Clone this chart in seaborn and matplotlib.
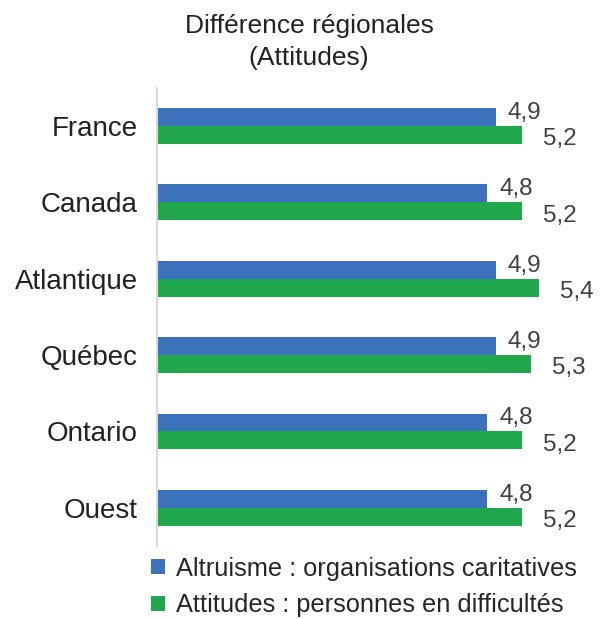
import pandas as pd
import matplotlib.pyplot as plt
import seaborn as sns
from matplotlib.patches import Patch

# Data
regions = ['France', 'Canada', 'Atlantique', 'Québec', 'Ontario', 'Ouest']
altruisme = [4.9, 4.8, 4.9, 4.9, 4.8, 4.8]
attitudes = [5.2, 5.2, 5.4, 5.3, 5.2, 5.2]
series = ['Altruisme : organisations caritatives', 'Attitudes : personnes en difficultés']
colors = ['#3b72bb', '#21a84c']

df = pd.DataFrame({
    'Region': regions * 2,
    'Score': altruisme + attitudes,
    'Serie': [series[0]] * len(regions) + [series[1]] * len(regions),
})

sns.set_style('white')
plt.rcParams['font.family'] = ['Liberation Sans', 'DejaVu Sans']

fig = plt.figure(figsize=(6, 6.19), dpi=100)
ax = fig.add_axes([0.262, 0.118, 0.718, 0.74])

sns.barplot(data=df, y='Region', x='Score', hue='Serie', order=regions,
            palette=colors, orient='h', width=0.47, saturation=1,
            edgecolor='none', ax=ax, legend=False)

ax.set_xlim(1, 5.96)
ax.set_xlabel('')
ax.set_ylabel('')
ax.set_xticks([])
ax.tick_params(axis='y', length=0, labelsize=20, pad=14, labelcolor='#222222')
for side in ['top', 'right', 'bottom']:
    ax.spines[side].set_visible(False)
ax.spines['left'].set_color('#d9d9d9')
ax.spines['left'].set_linewidth(1.5)

# value labels: blue one above-right of the bar end, green one pushed further right
offsets = [(8.5, 3), (15, -3)]
for cont, (dx, dy) in zip(ax.containers, offsets):
    for p in cont:
        val = p.get_width()
        ax.annotate(f'{val:.1f}'.replace('.', ','),
                    (p.get_x() + p.get_width(), p.get_y() + p.get_height() / 2),
                    xytext=(dx, dy), textcoords='offset points',
                    ha='left', va='center', fontsize=17.5, color='#404040')

fig.text(0.515, 0.978, 'Différence régionales\n(Attitudes)', ha='center', va='top',
         fontsize=19, color='#222222', linespacing=1.45)

handles = [Patch(facecolor=c, edgecolor='none') for c in colors]
fig.legend(handles, series, loc='lower left', bbox_to_anchor=(0.226, -0.022),
           frameon=False, fontsize=18.3, handlelength=0.55, handleheight=0.55,
           handletextpad=0.45, labelspacing=0.5, borderaxespad=0.2)

fig.savefig('out.png', dpi=100)
